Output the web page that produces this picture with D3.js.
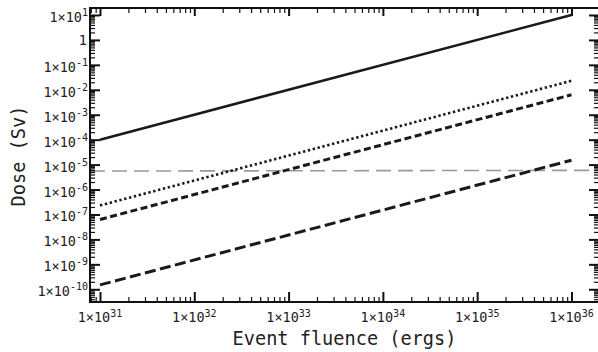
<!DOCTYPE html>
<html><head><meta charset="utf-8">
<script src="https://cdn.jsdelivr.net/npm/d3@7"></script>
<style>body{margin:0;background:#fff}svg{display:block}</style>
</head><body><svg id="c" width="598" height="352"></svg>
<script>
// ---- data ----
const xTickExponents = [31, 32, 33, 34, 35, 36];
const yTickExponents = [-10, -9, -8, -7, -6, -5, -4, -3, -2, -1, 0, 1];
const fluence = [1e31, 1e36];
const doseSolid = [1e-4, 1e1];
const doseDotted = [2.3e-7, 2.3e-2];
const doseDashed = [6.3e-8, 6.3e-3];
const doseLongDashed = [1.5e-10, 1.5e-5];
const thresholdFluence = [7.84e30, 1.96e36];
const thresholdDose = [5.5e-6, 5.9e-6];

// ---- layout ----
const L = 90, R = 599, T = 8, B = 302;
const svg = d3.select("#c");
const x = d3.scaleLog().domain([Math.pow(10, 30.894), Math.pow(10, 36.292)]).range([L, R]);
const y = d3.scaleLog().domain([Math.pow(10, -10.51), Math.pow(10, 1.28)]).range([B, T]);

function minorTicks(scale, e0, e1) {
  const [a, b] = scale.domain();
  const out = [];
  for (let e = e0; e <= e1; e++) for (let m = 2; m <= 9; m++) {
    const v = m * Math.pow(10, e);
    if (v >= a && v <= b) out.push(v);
  }
  return out;
}
const xMajor = xTickExponents.map(e => Math.pow(10, e));
const yMajor = yTickExponents.map(e => Math.pow(10, e));
const xMinor = minorTicks(x, 30, 36);
const yMinor = minorTicks(y, -11, 1);

// ---- series ----
const line = d3.line().x(d => x(d[0])).y(d => y(d[1]));
const series = [
  {xs: thresholdFluence, ys: thresholdDose, color: "#999", w: 1.6, dash: "15,7"},
  {xs: fluence, ys: doseSolid, color: "#1a1a1a", w: 2.6, dash: null},
  {xs: fluence, ys: doseDotted, color: "#1a1a1a", w: 2.6, dash: "2.4,2.6"},
  {xs: fluence, ys: doseDashed, color: "#1a1a1a", w: 3, dash: "7,3.5"},
  {xs: fluence, ys: doseLongDashed, color: "#1a1a1a", w: 3, dash: "11,4.5"}
];
svg.append("g").selectAll("path").data(series).join("path")
  .attr("d", s => line(s.xs.map((v, i) => [v, s.ys[i]])))
  .attr("fill", "none").attr("stroke", s => s.color).attr("stroke-width", s => s.w)
  .attr("stroke-dasharray", s => s.dash);

// ---- axes (inward ticks on all sides) ----
function addAxis(gen, tx, ty, values, size, w) {
  const g = svg.append("g").attr("transform", `translate(${tx},${ty})`)
    .call(gen.tickValues(values).tickSize(size).tickFormat(""));
  g.select(".domain").remove();
  g.selectAll(".tick line").attr("stroke", "#111").attr("stroke-width", w);
  return g;
}
addAxis(d3.axisBottom(x), 0, B, xMinor, -5, 1.2);
addAxis(d3.axisBottom(x), 0, B, xMajor, -10, 2);
addAxis(d3.axisTop(x), 0, T, xMinor, -5, 1.2);
addAxis(d3.axisTop(x), 0, T, xMajor, -8, 2);
addAxis(d3.axisLeft(y), L, 0, yMinor, -5, 1.2);
addAxis(d3.axisLeft(y), L, 0, yMajor, -10, 2);
addAxis(d3.axisRight(y), R, 0, yMinor, -5, 1.2);
addAxis(d3.axisRight(y), R, 0, yMajor, -10, 2);

svg.append("rect").attr("x", L).attr("y", T).attr("width", R - L).attr("height", B - T)
  .attr("fill", "none").attr("stroke", "#111").attr("stroke-width", 2);

// ---- tick labels ----
const font = "'DejaVu Sans Mono', monospace";
const xl = svg.append("g").attr("font-family", font).attr("fill", "#222");
xTickExponents.forEach(e => {
  const t = xl.append("text").attr("x", x(Math.pow(10, e))).attr("y", 322)
    .attr("text-anchor", "middle").attr("font-size", 13.5);
  t.append("tspan").text("1×10");
  t.append("tspan").attr("font-size", 10).attr("dy", -5).text(e);
});
const yl = svg.append("g").attr("font-family", font).attr("fill", "#222");
yTickExponents.forEach(e => {
  const yy = y(Math.pow(10, e));
  if (e === 0) {
    yl.append("text").attr("x", 87).attr("y", yy + 5).attr("text-anchor", "end")
      .attr("font-size", 13.5).text("1");
  } else {
    const t = yl.append("text").attr("x", 88).attr("y", yy + 7).attr("text-anchor", "end")
      .attr("font-size", 13.5);
    t.append("tspan").text("1×10");
    t.append("tspan").attr("font-size", 10).attr("dy", -6).text(e);
  }
});

// ---- axis titles ----
svg.append("text").attr("x", (L + R) / 2).attr("y", 345).attr("text-anchor", "middle")
  .attr("font-family", font).attr("font-size", 18.6).attr("fill", "#222")
  .text("Event fluence (ergs)");
svg.append("text").attr("transform", `translate(24.5,156) rotate(-90)`).attr("text-anchor", "middle")
  .attr("font-family", font).attr("font-size", 18.6).attr("fill", "#222")
  .text("Dose (Sv)");
</script></body></html>
